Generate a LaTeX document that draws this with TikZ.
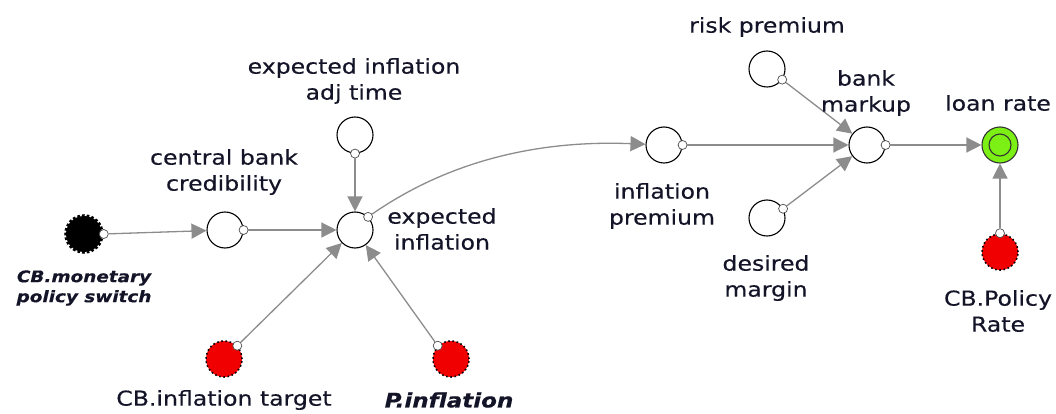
\documentclass[tikz,border=0pt]{standalone}
\usepackage{fontspec}
\setmainfont{DejaVu Sans}[FakeStretch=1.15,FakeBold=0.4]
\usetikzlibrary{arrows.meta}
\definecolor{conncol}{RGB}{140,140,140}
\definecolor{lime}{RGB}{124,240,20}
\definecolor{gearred}{RGB}{240,0,0}
\definecolor{txt}{RGB}{20,20,40}
\tikzset{
  aux/.style={circle,draw=black,fill=white,line width=1.1pt,minimum size=36pt,inner sep=0pt},
  redgear/.style={circle,draw=black,fill=gearred,line width=1.6pt,dash pattern=on 1.6pt off 2.6pt,minimum size=36pt,inner sep=0pt},
  blackgear/.style={circle,draw=black,fill=black,line width=3.5pt,dash pattern=on 2.6pt off 2pt,minimum size=36pt,inner sep=0pt},
  outpt/.style={circle,draw=black!70,fill=white,line width=0.7pt,minimum size=9pt,inner sep=0pt},
  lbl/.style={align=center,inner sep=1pt,text=txt,font=\fontsize{20.5}{26}\selectfont},
  blbl/.style={align=center,inner sep=1pt,text=txt,font=\fontsize{20}{26}\selectfont\bfseries\itshape},
  sblbl/.style={align=center,inner sep=1pt,text=txt,font=\fontsize{16}{20}\selectfont\bfseries\itshape},
  conn/.style={draw=conncol,line width=1.3pt,-{Triangle[length=15pt,width=15pt]}},
}
\begin{document}
\begin{tikzpicture}[x=1pt,y=-1pt]
\useasboundingbox (0,0) rectangle (1056,414);
% nodes
\node[blackgear] (mps) at (84,234) {};
\node[aux] (cbc) at (225,230) {};
\node[aux] (ei) at (355,230) {};
\node[aux] (adj) at (355,135) {};
\node[redgear] (cbit) at (224,359) {};
\node[redgear] (pinf) at (451,359) {};
\node[aux] (ip) at (664,145) {};
\node[aux] (rp) at (767,69) {};
\node[aux] (dm) at (767,218) {};
\node[aux] (bm) at (867,145) {};
\node[circle,draw=black!80,fill=lime,line width=1.1pt,minimum size=36pt,inner sep=0pt] (lr) at (1000,145) {};
\node[circle,draw=black!80,line width=1.1pt,minimum size=22pt,inner sep=0pt] (lrin) at (1000,145) {};
\node[redgear] (cbpr) at (1000,252) {};
% output points
\node[outpt] (mps-o) at (mps.east) {};
\node[outpt] (cbc-o) at (cbc.east) {};
\node[outpt] (ei-o) at (ei.45) {};
\node[outpt] (adj-o) at (adj.south) {};
\node[outpt] (cbit-o) at (cbit.45) {};
\node[outpt] (pinf-o) at (pinf.135) {};
\node[outpt] (ip-o) at (ip.east) {};
\node[outpt] (rp-o) at (rp.-35) {};
\node[outpt] (dm-o) at (dm.30) {};
\node[outpt] (bm-o) at (bm.east) {};
\node[outpt] (cbpr-o) at (cbpr.north) {};
% connectors
\draw[conn] (mps-o) -- (cbc);
\draw[conn] (cbc-o) -- (ei);
\draw[conn] (adj-o) -- (ei);
\draw[conn] (cbit-o) -- (ei);
\draw[conn] (pinf-o) -- (ei);
\draw[conn] (ei-o) .. controls (450,160) and (540,140) .. (ip);
\draw[conn] (ip-o) -- (bm);
\draw[conn] (rp-o) -- (bm);
\draw[conn] (dm-o) -- (bm);
\draw[conn] (bm-o) -- (lr);
\draw[conn] (cbpr-o) -- (lr);
% labels
\node[sblbl] (mps-l) at (84,288) {CB.monetary\\policy switch};
\node[lbl] (cbc-l) at (224,172) {central bank\\credibility};
\node[lbl] (adj-l) at (354,81) {expected inflation\\adj time};
\node[lbl,fill=white] (ei-l) at (442,229) {expected\\inflation};
\node[lbl] (cbit-l) at (224,400) {CB.inflation target};
\node[blbl] (pinf-l) at (449,400) {P.inflation};
\node[lbl] (rp-l) at (767,27) {risk premium};
\node[lbl] (bm-l) at (866,93) {bank\\markup};
\node[lbl] (lr-l) at (998,103) {loan rate};
\node[lbl] (ip-l) at (662,206) {inflation\\premium};
\node[lbl] (dm-l) at (766,278) {desired\\margin};
\node[lbl] (cbpr-l) at (998,311) {CB.Policy\\Rate};
\end{tikzpicture}
\end{document}
